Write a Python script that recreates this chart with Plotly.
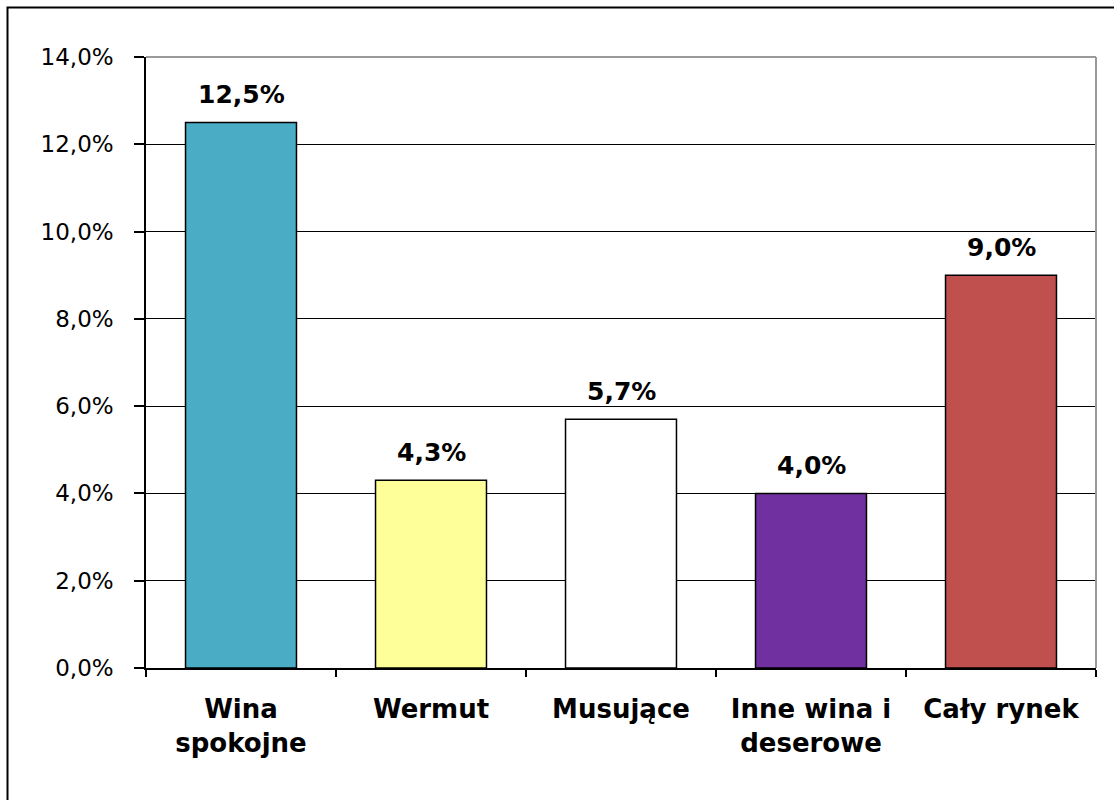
import plotly.graph_objects as go

# Growth by wine category (percent)
categories = ["Wina<br>spokojne", "Wermut", "Musujące", "Inne wina i<br>deserowe", "Cały rynek"]
values = [12.5, 4.3, 5.7, 4.0, 9.0]
colors = ["#4BACC6", "#FFFF99", "#FFFFFF", "#7030A0", "#C0504D"]
y_ticks = [0, 2, 4, 6, 8, 10, 12, 14]

W, H = 1114, 800
L, R, T, B = 146, 18, 57, 132
pw, ph = W - L - R, H - T - B

FONT = "DejaVu Sans, Liberation Sans, Arial, sans-serif"

fig = go.Figure()
fig.add_trace(go.Bar(
    x=categories,
    y=values,
    marker=dict(color=colors, line=dict(color="#000000", width=1.5)),
    hoverinfo="skip",
))

# value labels above the bars
for c, v in zip(categories, values):
    fig.add_annotation(
        x=c, y=v, xref="x", yref="y",
        text=f"{v:.1f}%".replace(".", ","),
        showarrow=False, yanchor="bottom", yshift=11,
        font=dict(family=FONT, size=25, color="#000000", weight="bold"),
    )

def px_x(p):
    return (p - L) / pw

def px_y(p):
    return (H - B - p) / ph

shapes = [
    # plot area border (top and right)
    dict(type="line", xref="paper", yref="paper", x0=0, x1=1, y0=1, y1=1,
         line=dict(color="#9A9A9A", width=2)),
    dict(type="line", xref="paper", yref="paper", x0=1, x1=1, y0=0, y1=1,
         line=dict(color="#9A9A9A", width=2)),
    # outer chart frame
    dict(type="rect", xref="paper", yref="paper",
         x0=px_x(7.5), x1=px_x(W + 20), y0=px_y(H + 20), y1=px_y(7.5),
         line=dict(color="#000000", width=2), fillcolor="rgba(0,0,0,0)"),
]

fig.update_layout(
    width=W, height=H,
    margin=dict(l=L, r=R, t=T, b=B, pad=0),
    paper_bgcolor="#FFFFFF", plot_bgcolor="#FFFFFF",
    bargap=0.416,
    showlegend=False,
    separators=", ",
    shapes=shapes,
    font=dict(family=FONT, color="#000000"),
)

fig.update_yaxes(
    range=[0, 14], tickvals=y_ticks,
    ticktext=[f"{t:.1f}%".replace(".", ",") for t in y_ticks],
    showgrid=True, gridcolor="#000000", gridwidth=1.3,
    showline=True, linecolor="#000000", linewidth=1.5,
    ticks="outside", ticklen=10, tickwidth=1.5, tickcolor="#000000",
    ticklabelstandoff=16,
    tickfont=dict(family=FONT, size=23, color="#000000"),
    zeroline=False, fixedrange=True,
)

fig.update_xaxes(
    showline=True, linecolor="#000000", linewidth=2,
    ticks="outside", tickson="boundaries", ticklen=7, tickwidth=1.5,
    tickcolor="#000000",
    ticklabelstandoff=17,
    tickfont=dict(family=FONT, size=26, color="#000000", weight="bold"),
    showgrid=False, fixedrange=True,
)

fig.write_html("out.html", config={"displayModeBar": False})
